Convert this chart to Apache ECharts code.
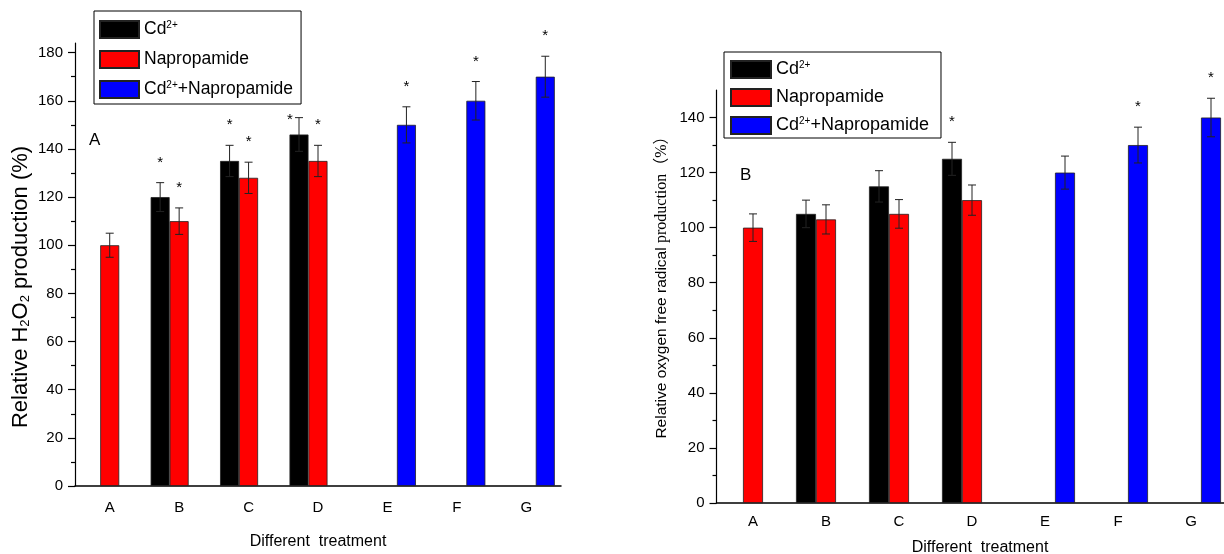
<!DOCTYPE html>
<html>
<head>
<meta charset="utf-8" />
<title>H2O2 and oxygen free radical</title>
<script src="https://cdn.jsdelivr.net/npm/echarts@6/dist/echarts.min.js"></script>
<style type="text/css">
html, body { margin: 0; padding: 0; background: #fff; }
#main { width: 1224px; height: 554px; }
</style>
</head>
<body>
<div id="main"></div>
<script type="text/javascript">
// data
var categories = ["A", "B", "C", "D", "E", "F", "G"];
var seriesNames = ["Cd2+", "Napropamide", "Cd2++Napropamide"];

// panel A: relative H2O2 production (%)
var h2o2Cd     = [null, 120, 135, 146, null, null, null];
var h2o2CdErr  = [null, 6, 6.5, 7, null, null, null];
var h2o2CdSig  = [0, 1, 1, 1, 0, 0, 0];
var h2o2Nap    = [100, 110, 128, 135, null, null, null];
var h2o2NapErr = [5, 5.5, 6.5, 6.5, null, null, null];
var h2o2NapSig = [0, 1, 1, 1, 0, 0, 0];
var h2o2Mix    = [null, null, null, null, 150, 160, 170];
var h2o2MixErr = [null, null, null, null, 7.5, 8, 8.5];
var h2o2MixSig = [0, 0, 0, 0, 1, 1, 1];

// panel B: relative oxygen free radical production (%)
var radCd     = [null, 105, 115, 125, null, null, null];
var radCdErr  = [null, 5, 5.7, 6, null, null, null];
var radCdSig  = [0, 0, 0, 1, 0, 0, 0];
var radNap    = [100, 103, 105, 110, null, null, null];
var radNapErr = [5, 5.3, 5.2, 5.5, null, null, null];
var radNapSig = [0, 0, 0, 0, 0, 0, 0];
var radMix    = [null, null, null, null, 120, 130, 140];
var radMixErr = [null, null, null, null, 6, 6.5, 7];
var radMixSig = [0, 0, 0, 0, 0, 1, 1];

// tick labels
var yTicksA = [0, 20, 40, 60, 80, 100, 120, 140, 160, 180];
var yMinorA = [10, 30, 50, 70, 90, 110, 130, 150, 170];
var yTicksB = [0, 20, 40, 60, 80, 100, 120, 140];
var yMinorB = [10, 30, 50, 70, 90, 110, 130];

var FONT = "Liberation Sans, Arial, sans-serif";
var colors = ["#000000", "#ff0000", "#0000ff"];
var barWidthA = 19, barWidthB = 20;

var myChart = echarts.init(document.getElementById("main"));

function errData(vals, errs, sigs, k) {
	var out = [];
	for (var i = 0; i < vals.length; i++) {
		if (vals[i] == null) continue;
		out.push([i, vals[i], errs[i], k, sigs[i]]);
	}
	return out;
}

// the D star of Cd2+ in panel A sits beside the error bar (legend is above it)
var besideStar = { "0-0-3": true };

function makeErrRender(bw, panel) {
	return function (params, api) {
		var idx = api.value(0), val = api.value(1), err = api.value(2);
		var k = api.value(3), sig = api.value(4);
		var cx = api.coord([idx, val])[0] + (k - 1) * bw;
		var top = api.coord([idx, val + err])[1];
		var bot = api.coord([idx, val - err])[1];
		var ls = { stroke: "#222", lineWidth: 1 };
		var children = [
			{ type: "line", shape: { x1: cx, y1: top, x2: cx, y2: bot }, style: ls },
			{ type: "line", shape: { x1: cx - 4, y1: top, x2: cx + 4, y2: top }, style: ls },
			{ type: "line", shape: { x1: cx - 4, y1: bot, x2: cx + 4, y2: bot }, style: ls }
		];
		if (sig) {
			var sx = cx, sy = top - 20;
			if (besideStar[panel + "-" + k + "-" + idx]) { sx = cx - 9; sy = top + 2; }
			children.push({
				type: "text",
				style: { text: "*", x: sx, y: sy, align: "center", verticalAlign: "middle",
					fontSize: 15, fontFamily: FONT, fill: "#000" }
			});
		}
		return { type: "group", children: children };
	};
}

function legendFormatter(name) {
	return name.replace(/Cd2\+/g, "Cd{sup|2+}");
}

function barSeries(name, data, k, xi, yi, bw) {
	return {
		name: name, type: "bar", xAxisIndex: xi, yAxisIndex: yi,
		data: data, barWidth: bw, barGap: "0%",
		itemStyle: { color: colors[k], borderColor: "#222", borderWidth: 0.8 },
		emphasis: { disabled: true }
	};
}

function legendCfg(left, top, fs, pad, gap, iw) {
	return {
		orient: "vertical", left: left, top: top, icon: "rect",
		itemWidth: iw, itemHeight: 17, itemGap: gap, padding: pad,
		borderColor: "#000", borderWidth: 1, selectedMode: false,
		data: seriesNames, formatter: legendFormatter,
		textStyle: {
			fontSize: fs, fontFamily: FONT, color: "#000",
			rich: { sup: { fontSize: 10, fontFamily: FONT, color: "#000", verticalAlign: "top", padding: [0, 0, 6, 0] } }
		}
	};
}

var tickStyle = { color: "#000", width: 1.2 };

option = {
	animation: false,
	backgroundColor: "#ffffff",
	title: [
		{ text: "A", left: 89, top: 132, padding: 0, textStyle: { fontSize: 17, fontWeight: "normal", fontFamily: FONT, color: "#000" } },
		{ text: "B", left: 740, top: 167, padding: 0, textStyle: { fontSize: 17, fontWeight: "normal", fontFamily: FONT, color: "#000" } }
	],
	legend: [
		legendCfg(94, 11, 17.5, [9, 8, 5, 5], 11, 39),
		legendCfg(724, 52, 18, [8, 12, 3, 6], 9, 40)
	],
	grid: [
		{ left: 75, top: 43, width: 486, height: 443, outerBoundsMode: "none", containLabel: false },
		{ left: 716.5, top: 90, width: 511, height: 413, outerBoundsMode: "none", containLabel: false }
	],
	xAxis: [
		{
			gridIndex: 0, type: "category", data: categories, position: "bottom",
			axisLine: { lineStyle: { color: "#000", width: 1.5 } },
			axisTick: { alignWithLabel: true, length: 8, lineStyle: tickStyle },
			axisLabel: { color: "#000", fontSize: 15, fontFamily: FONT, margin: 14 },
			name: "Different  treatment", nameLocation: "middle", nameGap: 48,
			nameTextStyle: { fontSize: 16, fontFamily: FONT, color: "#000" }
		},
		{
			gridIndex: 0, type: "category", data: categories, position: "bottom",
			axisLine: { show: false }, axisLabel: { show: false },
			axisTick: { length: 4, lineStyle: tickStyle }
		},
		{
			gridIndex: 1, type: "category", data: categories, position: "bottom",
			axisLine: { lineStyle: { color: "#000", width: 1.5 } },
			axisTick: { alignWithLabel: true, length: 7, lineStyle: tickStyle },
			axisLabel: { color: "#000", fontSize: 15, fontFamily: FONT, margin: 11 },
			name: "Different  treatment", nameLocation: "middle", nameGap: 37,
			nameTextStyle: { fontSize: 16, fontFamily: FONT, color: "#000", padding: [0, 0, 0, 16] }
		},
		{
			gridIndex: 1, type: "category", data: categories, position: "bottom",
			axisLine: { show: false }, axisLabel: { show: false },
			axisTick: { length: 4, lineStyle: tickStyle }
		}
	],
	yAxis: [
		{
			gridIndex: 0, type: "value", min: 0, max: 184, position: "left",
			splitLine: { show: false },
			axisLine: { show: true, lineStyle: { color: "#000", width: 1.2 } },
			axisTick: { show: true, length: 7, lineStyle: tickStyle, customValues: yTicksA },
			axisLabel: { color: "#000", fontSize: 15, fontFamily: FONT, margin: 12, customValues: yTicksA },
			name: "Relative H{sub|2}O{sub|2} production (%)", nameLocation: "middle", nameGap: 43,
			nameTextStyle: {
				fontSize: 22, fontFamily: FONT, color: "#000", padding: [0, 45, 0, 0],
				rich: { sub: { fontSize: 13, fontFamily: FONT, color: "#000", verticalAlign: "bottom", padding: [7, 0, 0, 0] } }
			}
		},
		{
			gridIndex: 0, type: "value", min: 0, max: 184, position: "left",
			splitLine: { show: false }, axisLine: { show: false }, axisLabel: { show: false },
			axisTick: { show: true, length: 4, lineStyle: tickStyle, customValues: yMinorA }
		},
		{
			gridIndex: 1, type: "value", min: 0, max: 150, position: "left",
			splitLine: { show: false },
			axisLine: { show: true, lineStyle: { color: "#000", width: 1.2 } },
			axisTick: { show: true, length: 7, lineStyle: tickStyle, customValues: yTicksB },
			axisLabel: { color: "#000", fontSize: 15, fontFamily: FONT, margin: 12, customValues: yTicksB },
			name: "{a|Relative oxygen free radical }{b|production（%）}", nameLocation: "middle", nameGap: 47,
			nameTextStyle: {
				color: "#000", padding: [0, 0, 0, 26],
				rich: {
					a: { fontSize: 15.5, fontFamily: FONT, color: "#000" },
					b: { fontSize: 16, fontFamily: "Liberation Serif, Noto Sans CJK SC, serif", color: "#000" }
				}
			}
		},
		{
			gridIndex: 1, type: "value", min: 0, max: 150, position: "left",
			splitLine: { show: false }, axisLine: { show: false }, axisLabel: { show: false },
			axisTick: { show: true, length: 4, lineStyle: tickStyle, customValues: yMinorB }
		}
	],
	series: [
		barSeries(seriesNames[0], h2o2Cd, 0, 0, 0, barWidthA),
		barSeries(seriesNames[1], h2o2Nap, 1, 0, 0, barWidthA),
		barSeries(seriesNames[2], h2o2Mix, 2, 0, 0, barWidthA),
		{
			type: "custom", xAxisIndex: 0, yAxisIndex: 0, z: 5, silent: true,
			renderItem: makeErrRender(barWidthA, 0),
			data: errData(h2o2Cd, h2o2CdErr, h2o2CdSig, 0)
				.concat(errData(h2o2Nap, h2o2NapErr, h2o2NapSig, 1))
				.concat(errData(h2o2Mix, h2o2MixErr, h2o2MixSig, 2))
		},
		barSeries(seriesNames[0], radCd, 0, 2, 2, barWidthB),
		barSeries(seriesNames[1], radNap, 1, 2, 2, barWidthB),
		barSeries(seriesNames[2], radMix, 2, 2, 2, barWidthB),
		{
			type: "custom", xAxisIndex: 2, yAxisIndex: 2, z: 5, silent: true,
			renderItem: makeErrRender(barWidthB, 1),
			data: errData(radCd, radCdErr, radCdSig, 0)
				.concat(errData(radNap, radNapErr, radNapSig, 1))
				.concat(errData(radMix, radMixErr, radMixSig, 2))
		}
	]
};

myChart.setOption(option);
</script>
</body>
</html>
